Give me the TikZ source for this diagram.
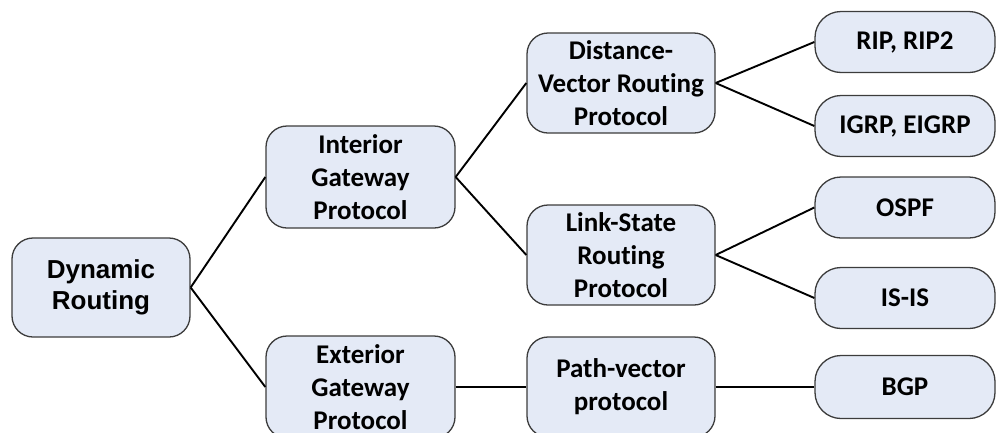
\documentclass[tikz,border=0pt]{standalone}
\usepackage{fontspec}
\setmainfont{Carlito}[Ligatures=NoCommon]
\newfontfamily\arialfont{Liberation Sans}
\definecolor{boxfill}{RGB}{228,234,246}
\definecolor{boxborder}{RGB}{60,60,60}
\begin{document}
\begin{tikzpicture}[x=1pt,y=-1pt,
  box/.style={draw=boxborder, fill=boxfill, line width=1.3pt, rounded corners=21pt,
    align=center, inner sep=0pt, font=\fontsize{27}{33}\selectfont\bfseries},
  bigbox/.style={box, minimum width=189pt, minimum height=102pt},
  leaf/.style={box, rounded corners=26pt, minimum width=180pt, minimum height=61pt},
  link/.style={line width=1.9pt, black}]
\useasboundingbox (0,0) rectangle (997,432);
\clip (0,0) rectangle (997,432);
\node[box, minimum width=178pt, minimum height=99pt,
  font=\arialfont\fontsize{26}{31}\selectfont\bfseries] (dr) at (101,287.5) {Dynamic\\Routing};
\node[bigbox] (igp) at (360.5,177) {Interior\\Gateway\\Protocol};
\node[bigbox] (egp) at (360.5,387) {Exterior\\Gateway\\Protocol};
\node[bigbox, minimum width=188pt, minimum height=100pt] (dv) at (621,83) {Distance-\\Vector Routing\\Protocol};
\node[bigbox, minimum width=188pt, minimum height=100pt] (ls) at (621,255) {Link-State\\Routing\\Protocol};
\node[bigbox, minimum width=188pt, minimum height=100pt] (pv) at (621,387) {Path-vector\\protocol};
\node[leaf] (rip) at (905,42) {RIP, RIP2};
\node[leaf] (igrp) at (905,126) {IGRP, EIGRP};
\node[leaf] (ospf) at (905,207.5) {OSPF};
\node[leaf] (isis) at (905,298) {IS-IS};
\node[leaf, minimum height=63pt] (bgp) at (905,387) {BGP};
\draw[link] (dr.east) -- (igp.west);
\draw[link] (dr.east) -- (egp.west);
\draw[link] (igp.east) -- (dv.west);
\draw[link] (igp.east) -- (ls.west);
\draw[link] (egp.east) -- (pv.west);
\draw[link] (dv.east) -- (rip.west);
\draw[link] (dv.east) -- (igrp.west);
\draw[link] (ls.east) -- (ospf.west);
\draw[link] (ls.east) -- (isis.west);
\draw[link] (pv.east) -- (bgp.west);
\end{tikzpicture}
\end{document}
